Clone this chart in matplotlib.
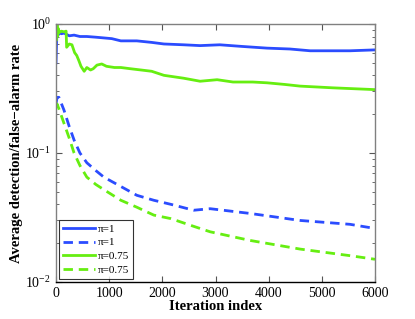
import matplotlib
matplotlib.use("Agg")
import matplotlib.pyplot as plt
from matplotlib.ticker import LogLocator, NullFormatter

# values (iteration index -> rate)
it_det1 = [0, 10, 20, 40, 60, 100, 150, 250, 340, 450, 580, 750, 900, 1050, 1220,
           1520, 1800, 2030, 2400, 2710, 3080, 3500, 3970, 4400, 4780, 5200, 5530, 6000]
det1 = [0.50, 0.70, 0.90, 0.82, 0.86, 0.84, 0.85, 0.81, 0.82, 0.80, 0.80, 0.79, 0.78,
        0.77, 0.74, 0.74, 0.72, 0.70, 0.69, 0.68, 0.69, 0.67, 0.65, 0.64, 0.62, 0.62, 0.62, 0.63]

it_det075 = [0, 10, 20, 30, 45, 60, 100, 150, 190, 200, 250, 300, 350, 390, 430, 470, 530,
             580, 650, 700, 770, 860, 950, 1100, 1220, 1400, 1600, 1800, 2030, 2400, 2710,
             3030, 3330, 3700, 3970, 4300, 4590, 4900, 5210, 5600, 6000]
det075 = [0.95, 0.75, 1.0, 0.80, 0.92, 0.86, 0.88, 0.87, 0.88, 0.66, 0.70, 0.69, 0.60,
          0.57, 0.52, 0.47, 0.43, 0.46, 0.44, 0.45, 0.48, 0.49, 0.47, 0.46, 0.46, 0.45,
          0.44, 0.43, 0.40, 0.38, 0.36, 0.37, 0.355, 0.355, 0.35, 0.34, 0.33, 0.325, 0.32,
          0.315, 0.31]

it_fa = [0, 20, 55, 150, 250, 340, 450, 580, 750, 900, 1220, 1520, 1840, 2160, 2590,
         2900, 3650, 4590, 5530, 6000]
fa1 = [0.24, 0.27, 0.27, 0.215, 0.16, 0.126, 0.10, 0.084, 0.073, 0.065, 0.055, 0.047,
       0.043, 0.040, 0.036, 0.037, 0.034, 0.030, 0.028, 0.026]
fa075 = [0.227, 0.24, 0.22, 0.17, 0.13, 0.10, 0.08, 0.065, 0.057, 0.052, 0.043, 0.038,
         0.033, 0.031, 0.027, 0.0245, 0.021, 0.018, 0.016, 0.015]

labels = ["\u03c0=1", "\u03c0=1", "\u03c0=0.75", "\u03c0=0.75"]

blue = "#2b4cff"
green = "#66ee11"

plt.rcParams['font.family'] = ['Liberation Serif', 'DejaVu Serif']
plt.rcParams['mathtext.fontset'] = 'stix'

fig = plt.figure(figsize=(4.15, 3.19), dpi=100)
ax = fig.add_axes([56/415, 1 - 282/319, (375 - 56)/415, (282 - 24)/319])

lw = 2.0
ax.plot(it_det1, det1, color=blue, lw=lw, label=labels[0])
ax.plot(it_fa, fa1, color=blue, lw=lw, dashes=(3.4, 2.1), label=labels[1])
ax.plot(it_det075, det075, color=green, lw=lw, label=labels[2])
ax.plot(it_fa, fa075, color=green, lw=lw, dashes=(3.4, 2.1), label=labels[3])

ax.set_yscale('log')
ax.set_xlim(0, 6000)
ax.set_ylim(1e-2, 1)
ax.set_xticks([0, 1000, 2000, 3000, 4000, 5000, 6000])
ax.yaxis.set_minor_locator(LogLocator(base=10, subs=range(2, 10)))
ax.yaxis.set_minor_formatter(NullFormatter())

ax.tick_params(which='both', direction='in', top=True, right=True, colors='#555555',
               labelcolor='black', labelsize=10)
ax.tick_params(which='major', length=4)
ax.tick_params(which='minor', length=2.5)

for side in ['left', 'top', 'right']:
    ax.spines[side].set_color('#808080')
ax.spines['bottom'].set_color('black')
for sp in ax.spines.values():
    sp.set_linewidth(1.0)

ax.set_xlabel('Iteration index', fontsize=10.5, fontweight='bold', labelpad=0)
ax.set_ylabel('Average detection/false\u2212alarm rate', fontsize=10.5, fontweight='bold', labelpad=2)

leg = ax.legend(loc='lower left', fontsize=8, frameon=True, fancybox=False,
                borderaxespad=0.25, handlelength=2.9, labelspacing=0.35,
                handletextpad=0.2, borderpad=0.4)
leg.get_frame().set_edgecolor('black')
leg.get_frame().set_linewidth(0.8)

fig.savefig('out.png', dpi=100)
